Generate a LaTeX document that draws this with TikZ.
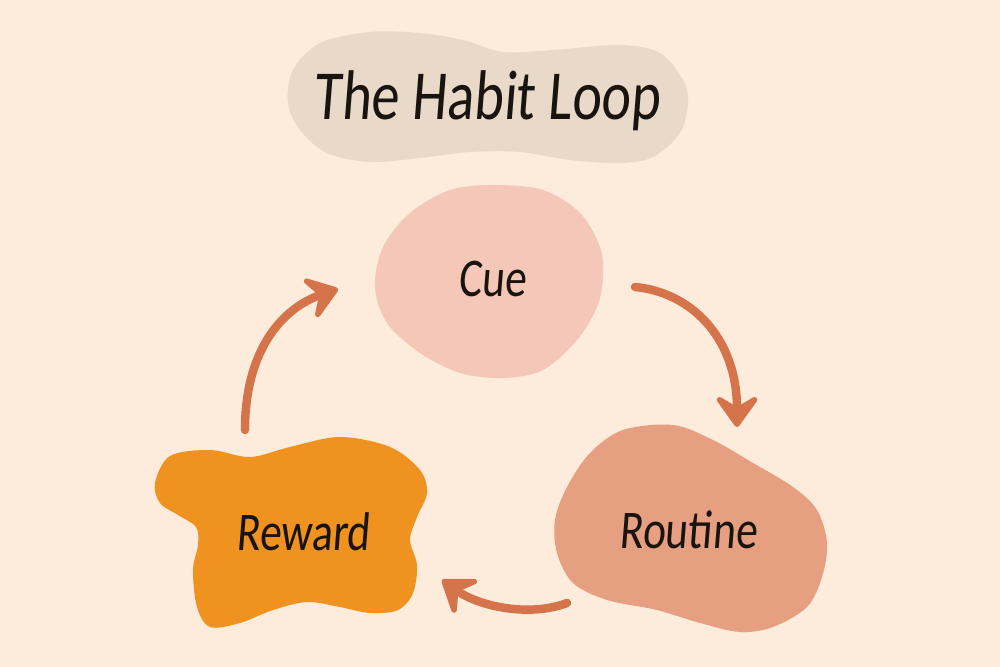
\documentclass[tikz,border=0pt]{standalone}
\usepackage{fontspec}
\setmainfont{Carlito}
\newfontfamily\handfont{Carlito}[FakeSlant=0.08,FakeStretch=0.8]
\usetikzlibrary{arrows.meta}

\definecolor{paper}{HTML}{FDEBDB}
\definecolor{titlefill}{HTML}{E9D9C8}
\definecolor{cuefill}{HTML}{F5C7B8}
\definecolor{routinefill}{HTML}{E6A081}
\definecolor{rewardfill}{HTML}{F0921F}
\definecolor{arrowc}{HTML}{D5744A}
\definecolor{ink}{HTML}{1A1410}

\tikzset{
  titletext/.style={font=\handfont\fontsize{20}{22}\selectfont, text=ink, anchor=base, inner sep=0pt},
  blobtext/.style={font=\handfont\fontsize{15.5}{17}\selectfont, text=ink, anchor=base, inner sep=0pt},
  loop arrow/.style={draw=arrowc, line width=2.4pt, line cap=round,
    -{Stealth[length=3.8mm,width=5.4mm,inset=1.6mm,round]}},
  blob/.style={smooth cycle, tension=0.55}
}

\begin{document}
\begin{tikzpicture}[x=0.01cm,y=-0.01cm]
\fill[paper] (0,0) rectangle (1000,667);
\fill[titlefill] plot[blob] coordinates {(320,43) (370,32) (420,33) (463,40) (503,52) (553,50) (620,45) (660,53) (683,80) (688,103) (680,133) (653,157) (620,163) (570,160) (520,152) (470,152) (420,158) (370,162) (327,153) (300,130) (288,103) (293,70)};
\fill[cuefill] plot[blob] coordinates {(493,185) (543,190) (580,213) (600,247) (603,277) (597,307) (577,340) (543,370) (503,378) (460,373) (420,353) (387,323) (375,287) (383,247) (410,213) (450,190)};
\fill[routinefill] plot[blob] coordinates {(623,430) (673,425) (713,440) (753,463) (793,487) (817,510) (827,543) (822,577) (807,607) (773,627) (740,632) (700,623) (657,610) (607,600) (573,583) (557,553) (555,520) (567,487) (590,453)};
\fill[rewardfill] plot[blob] coordinates {(170,456) (210,450) (250,457) (290,447) (340,437) (390,447) (420,470) (427,493) (417,517) (410,540) (417,565) (413,593) (398,610) (370,613) (340,607) (307,602) (273,610) (240,623) (210,627) (197,607) (193,570) (198,545) (196,527) (178,515) (160,503) (155,483)};

\node[titletext] (title) at (487,120) {The Habit Loop};
\node[blobtext] (cue) at (492,297) {Cue};
\node[blobtext] (routine) at (688,548) {Routine};
\node[blobtext] (reward) at (303,550) {Reward};

\coordinate (reward out) at (245,430);
\coordinate (cue in) at (338,289);
\coordinate (cue out) at (635,287);
\coordinate (routine in) at (737,427);
\coordinate (routine out) at (567,603);
\coordinate (reward in) at (442,580);

\draw[loop arrow] (reward out) .. controls (245,347) and (285,307) .. (cue in);
\draw[loop arrow] (cue out) .. controls (690,292) and (737,337) .. (routine in);
\draw[loop arrow] (routine out) .. controls (530,617) and (480,607) .. (reward in);
\end{tikzpicture}
\end{document}
